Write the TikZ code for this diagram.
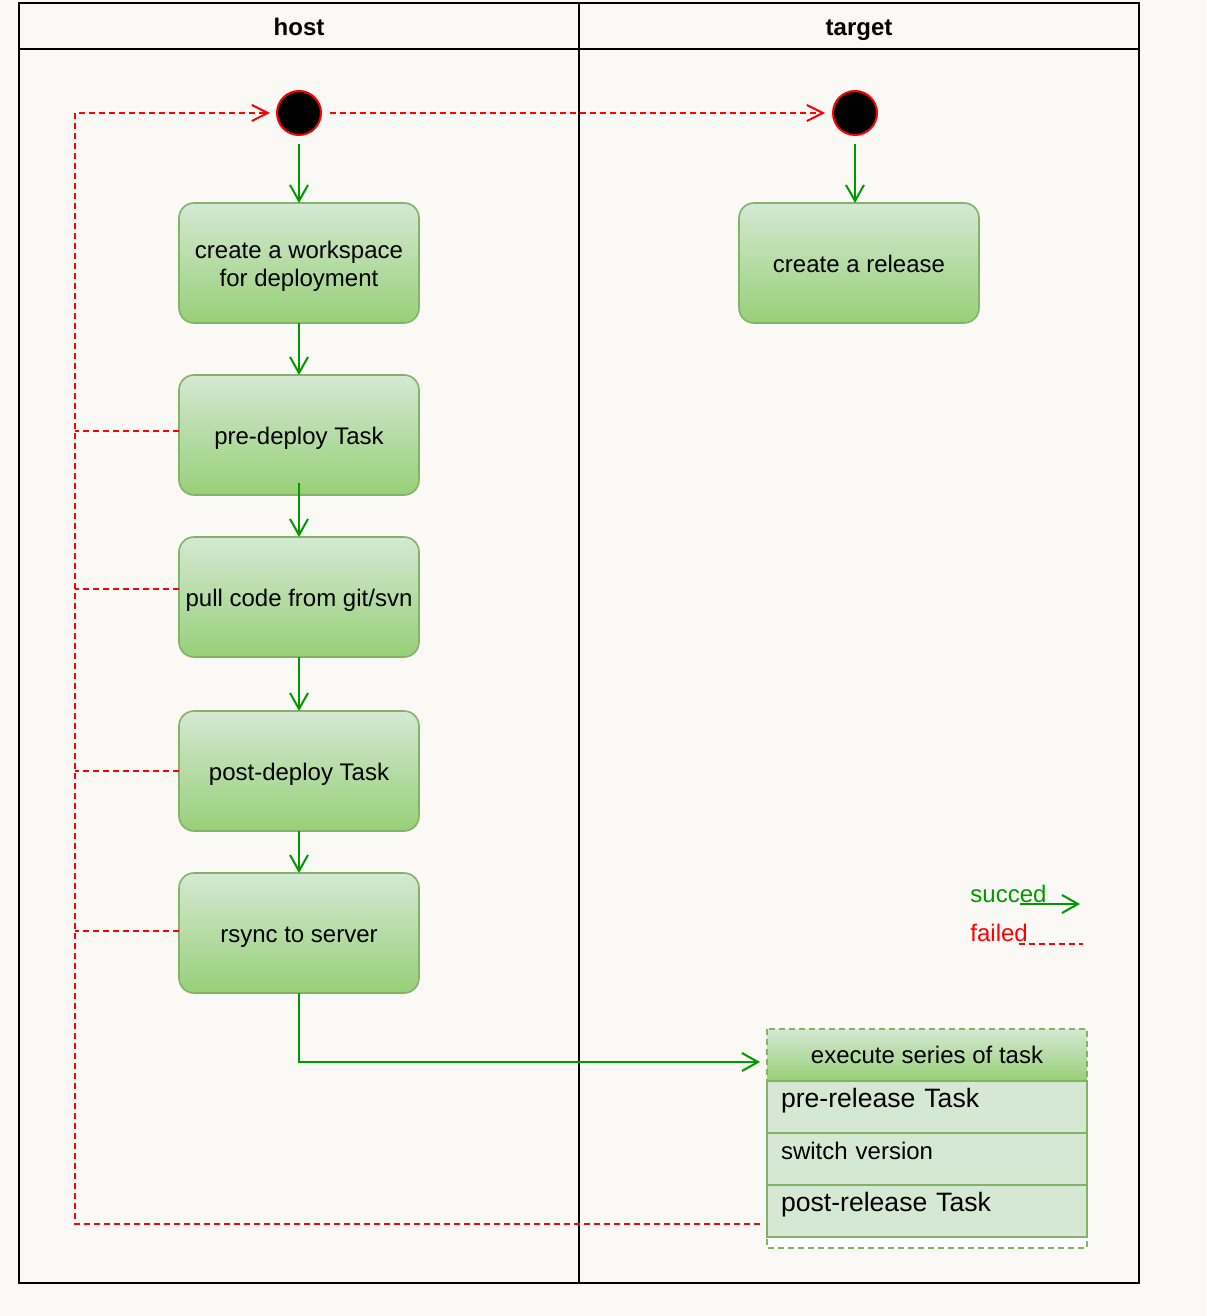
\documentclass[tikz,border=0pt]{standalone}
\usepackage{fontspec}
\setmainfont{Liberation Sans}
\usetikzlibrary{positioning,arrows.meta}

\definecolor{pagebg}{HTML}{FAF9F6}
\definecolor{tasktop}{HTML}{D5E8D4}
\definecolor{taskbottom}{HTML}{97D077}
\definecolor{taskline}{HTML}{82B366}
\definecolor{succgreen}{HTML}{009900}
\definecolor{failred}{HTML}{FF0000}

\begin{document}
\begin{tikzpicture}[
    x=0.5pt, y=-0.5pt,
    font=\fontsize{12pt}{14pt}\selectfont,
    lane/.style={draw, line width=1pt},
    lanetitle/.style={font=\fontsize{12pt}{14pt}\selectfont\bfseries, text height=9pt, text depth=3pt},
    task/.style={rectangle, rounded corners=7.5pt, draw=taskline, line width=0.8pt, outer sep=0pt, top color=tasktop, bottom color=taskbottom, minimum width=120pt, minimum height=60pt, inner sep=1pt, align=center, text height=10.5pt, text depth=1.3pt},
    start/.style={circle, draw=failred, line width=1pt, fill=black, minimum size=22pt, inner sep=0pt},
    seriesframe/.style={rectangle, minimum width=160pt, minimum height=109.5pt, inner sep=0pt, outer sep=0pt},
    serieshead/.style={rectangle, top color=tasktop, bottom color=taskbottom, minimum width=160pt, minimum height=26pt, inner sep=0pt, outer sep=0pt, text height=9.5pt, text depth=1.5pt},
    row/.style={rectangle, draw=taskline, line width=0.8pt, fill=tasktop, outer sep=0pt, minimum width=160pt, minimum height=26pt, text width=146pt, inner xsep=7pt, align=left, text height=8pt, text depth=8pt},
    rowbig/.style={row, font=\fontsize{13.3pt}{15pt}\selectfont},
    legend/.style={anchor=base west, inner sep=0pt},
    succ/.style={draw=succgreen, line width=1pt, -{Straight Barb[length=8pt,width=9pt]}},
    failed/.style={draw=failred, line width=1pt, dash pattern=on 3pt off 2pt},
    failarrow/.style={failed, -{Straight Barb[length=8pt,width=8pt]}}
]
    % Background and lanes
    \fill[pagebg] (0,0) rectangle (1206,1316);
    \useasboundingbox (0,0) rectangle (1206,1316);
    \draw[lane] (19,3) rectangle (1139,1283);
    \draw[lane] (19,49) -- (1139,49);
    \draw[lane] (579,3) -- (579,1283);
    \node[lanetitle] (hosttitle) at (299,30) {host};
    \node[lanetitle] (targettitle) at (859,30) {target};

    % Nodes
    \node[start] (hoststart) at (299,113) {};
    \node[start] (targetstart) at (855,113) {};
    \node[task] (workspace) at (299,263) {\raisebox{-7.4pt}{\shortstack{create a workspace\\for deployment}}};
    \node[task, below=26pt of workspace.south] (predeploy) {pre-deploy Task};
    \node[task, below=21pt of predeploy.south] (pull) {pull code from git/svn};
    \node[task, below=27pt of pull.south] (postdeploy) {post-deploy Task};
    \node[task, below=21pt of postdeploy.south] (rsync) {rsync to server};
    \node[task] (release) at (859,263) {create a release};

    % Series of task
    \node[seriesframe, fill=white] (series) at (927,1138.5) {};
    \node[serieshead, below=0pt of series.north] (exec) {execute series of task};
    \node[rowbig, below=0pt of exec.south] (prerelease) {pre-release Task};
    \node[row, below=0pt of prerelease.south] (switch) {switch version};
    \node[rowbig, below=0pt of switch.south] (postrelease) {post-release Task};
    \draw[taskline, line width=0.8pt, dash pattern=on 3pt off 2pt] (series.north west) rectangle (series.south east);

    % Arrows
    \draw[succ, shorten <=4pt] (hoststart) -- (workspace);
    \draw[succ] (workspace) -- (predeploy);
    \draw[succ, shorten <=-6pt] (predeploy) -- (pull);
    \draw[succ] (pull) -- (postdeploy);
    \draw[succ] (postdeploy) -- (rsync);
    \draw[succ] (rsync.south) |- ([xshift=-3.5pt,yshift=-3.5pt]exec.west);
    \draw[succ, shorten <=4pt] (targetstart) -- (targetstart |- release.north);

    % Failures
    \coordinate (loopcorner) at (75,113);
    \coordinate (failstart) at ([xshift=-3.5pt,yshift=-6.5pt]postrelease.west);
    \draw[failarrow, shorten <=4pt, shorten >=3.5pt] (hoststart) -- (targetstart);
    \draw[failarrow, shorten >=3pt] (failstart) -| (loopcorner) -- (hoststart);
    \draw[failed] ([yshift=2pt]predeploy.west) -- ([yshift=2pt]predeploy.west -| loopcorner);
    \draw[failed] ([yshift=4pt]pull.west) -- ([yshift=4pt]pull.west -| loopcorner);
    \draw[failed] (postdeploy.west) -- (postdeploy.west -| loopcorner);
    \draw[failed] ([yshift=1pt]rsync.west) -- ([yshift=1pt]rsync.west -| loopcorner);

    % Legend
    \node[legend, text=succgreen] (succlabel) at (970,902) {succed};
    \node[legend, text=failred] (faillabel) at (970,941) {failed};
    \coordinate (succfrom) at (1020,904);
    \coordinate (succto) at (1080,904);
    \coordinate (failfrom) at (1019,944);
    \coordinate (failto) at (1083,944);
    \draw[succ] (succfrom) -- (succto);
    \draw[failed] (failfrom) -- (failto);
\end{tikzpicture}
\end{document}
